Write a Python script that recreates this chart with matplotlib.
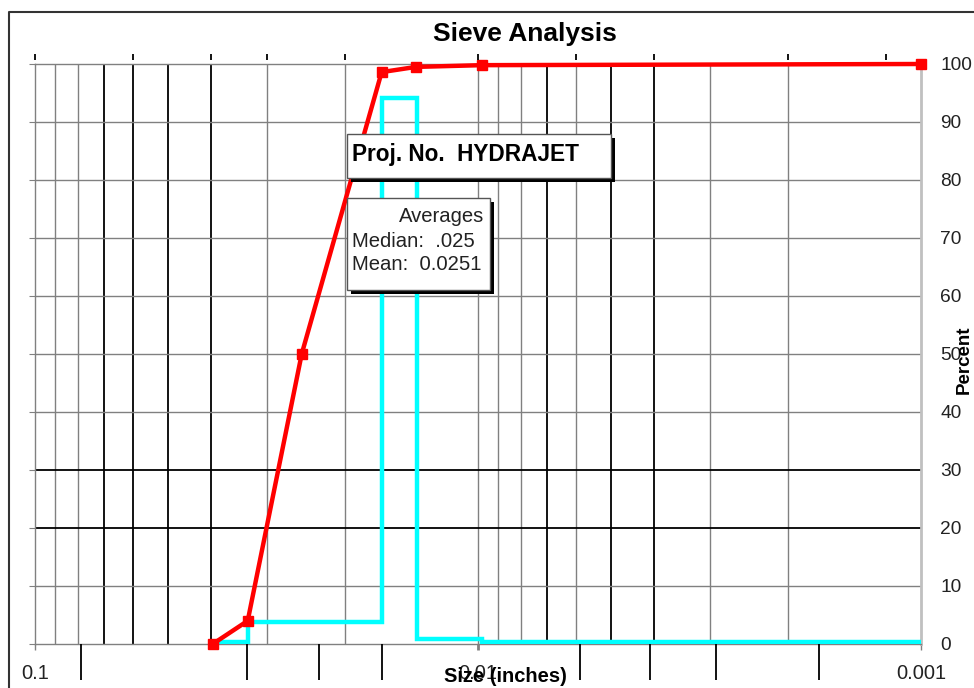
import matplotlib
matplotlib.use("Agg")
import matplotlib.pyplot as plt
from matplotlib.patches import Rectangle
from matplotlib.lines import Line2D
from matplotlib.ticker import NullLocator

plt.rcParams['font.family'] = ['Liberation Sans', 'DejaVu Sans']

# ---- data ----
size_in = [0.0397, 0.0331, 0.025, 0.0165, 0.0138, 0.0098, 0.001]
pct_passing = [0, 4.0, 50, 98.6, 99.5, 99.8, 100]

retained_edges = [0.0397, 0.0331, 0.0165, 0.0137, 0.0098, 0.001]
pct_retained = [0.3, 3.8, 94.1, 0.9, 0.4]

x_tick_vals = [0.1, 0.01, 0.001]
x_tick_labels = ['0.1', '0.01', '0.001']
y_tick_vals = list(range(0, 101, 10))

grid_sizes = [0.09, 0.08, 0.07, 0.06, 0.05, 0.04, 0.03, 0.02, 0.01,
              0.009, 0.008, 0.007, 0.006, 0.005, 0.004, 0.003, 0.002]
dark_grid_sizes = [0.07, 0.06, 0.05, 0.04, 0.007, 0.005, 0.004]
dark_grid_pct = [20, 30]

sieve_top = [0.1, 0.06, 0.04, 0.03, 0.02, 0.01, 0.006, 0.004, 0.002, 0.0012]
sieve_bottom = [0.0787, 0.0332, 0.0229, 0.0165, 0.0059, 0.0041, 0.0029, 0.0017]

title = "Sieve Analysis"
x_label = "Size (inches)"
y_label = "Percent"
project_text = "Proj. No.  HYDRAJET"
median_txt = ".025"
mean_txt = "0.0251"

# ---- figure ----
W, H = 974, 688
fig = plt.figure(figsize=(W / 100, H / 100), dpi=100)


def fx(px):
    return px / W


def fy(py):
    return 1 - py / H


ax = fig.add_axes([fx(35), fy(644), (921 - 35) / W, (644 - 64) / H])
ax.set_xscale('log')
ax.set_xlim(0.1, 0.001)
ax.set_ylim(0, 100)

GREY = '#808080'
for v in grid_sizes:
    dark = v in dark_grid_sizes
    ax.axvline(v, color='black' if dark else GREY, lw=1.3 if dark else 1.0, zorder=1)
for h in y_tick_vals[1:-1]:
    dark = h in dark_grid_pct
    ax.axhline(h, color='black' if dark else GREY, lw=1.3 if dark else 1.0, zorder=1)

for s in ['top', 'bottom', 'left']:
    ax.spines[s].set_color(GREY)
    ax.spines[s].set_linewidth(1.0)
ax.spines['right'].set_color('#c0c0c0')
ax.spines['right'].set_linewidth(2.0)

# series
ax.stairs(pct_retained, retained_edges, baseline=None, color='#00ffff', lw=3.2, zorder=3)
ax.plot(size_in, pct_passing, color='#ff0000', lw=3.2, marker='s', ms=7.5,
        zorder=4, clip_on=False)

# y axis
ax.set_yticks(y_tick_vals)
ax.set_yticklabels([str(v) for v in y_tick_vals])
ax.tick_params(axis='y', left=True, right=False, labelleft=False, labelright=True,
               length=4.3, width=0.8, color=GREY, pad=9.5, labelsize=13.8,
               labelcolor='#222222')
ax.yaxis.set_label_position('right')
ax.set_ylabel(y_label, fontsize=13.5, fontweight='bold', rotation=90,
              ha='center', va='center')
ax.yaxis.set_label_coords(1.0485, 0.49)

# x axis
ax.set_xticks(x_tick_vals)
ax.set_xticklabels(x_tick_labels)
ax.xaxis.set_minor_locator(NullLocator())
ax.tick_params(axis='x', length=4.3, width=1.0, color=GREY, pad=10,
               labelsize=14.5, labelcolor='#222222')
for t, v in zip(ax.xaxis.get_major_ticks(), x_tick_vals):
    if v == 0.01:
        t.tick1line.set_color('black')
        t.tick1line.set_markeredgewidth(2.0)
ax.set_xlabel(x_label, fontsize=14.5, fontweight='bold', va='center')
ax.xaxis.set_label_coords((505 - 35) / 886, (644 - 676) / 580)

ax.set_title(title, fontsize=19, fontweight='bold', x=(525 - 35) / 886,
             y=(644 - 34) / 580, va='center', pad=0)

# sieve tick marks above the plot
ax_t = ax.twiny()
ax_t.set_xscale('log')
ax_t.set_xlim(0.1, 0.001)
ax_t.set_xticks(sieve_top)
ax_t.set_xticklabels([])
ax_t.xaxis.set_minor_locator(NullLocator())
ax_t.tick_params(axis='x', top=True, bottom=False, length=4.5, width=1.3, color='black')
for s in ax_t.spines.values():
    s.set_visible(False)
ax_t.spines['top'].set_position(('outward', 3))
ax_t.patch.set_visible(False)

# sieve tick marks below the plot
ax_b = ax.twiny()
ax_b.set_xscale('log')
ax_b.set_xlim(0.1, 0.001)
ax_b.xaxis.set_ticks_position('bottom')
ax_b.set_xticks(sieve_bottom)
ax_b.set_xticklabels([])
ax_b.xaxis.set_minor_locator(NullLocator())
ax_b.tick_params(axis='x', top=False, bottom=True, length=26, width=1.3, color='black')
for t, v in zip(ax_b.xaxis.get_major_ticks(), sieve_bottom):
    if v == 0.0165:
        t.tick1line.set_color(GREY)
for s in ax_b.spines.values():
    s.set_visible(False)
ax_b.patch.set_visible(False)


# text boxes with drop shadows
def shadow_box(x0, y0, x1, y1, off=4):
    fig.add_artist(Rectangle((fx(x0 + off), fy(y1 + off)), (x1 - x0) / W, (y1 - y0) / H,
                             transform=fig.transFigure, facecolor='black',
                             edgecolor='black', lw=0, zorder=10))
    fig.add_artist(Rectangle((fx(x0), fy(y1)), (x1 - x0) / W, (y1 - y0) / H,
                             transform=fig.transFigure, facecolor='white',
                             edgecolor='#555555', lw=1.0, zorder=11))


shadow_box(347, 134, 611, 178)
fig.text(fx(352), fy(155), project_text, fontsize=16.3, fontweight='bold',
         ha='left', va='center', zorder=12)

shadow_box(347, 198, 490, 290)
fig.text(fx(484), fy(216), "Averages", fontsize=14.6, ha='right', va='center',
         color='#222222', zorder=12)
fig.text(fx(352), fy(241), f"Median:  {median_txt}", fontsize=14.6, ha='left',
         va='center', color='#222222', zorder=12)
fig.text(fx(352), fy(265), f"Mean:  {mean_txt}", fontsize=14.6, ha='left',
         va='center', color='#222222', zorder=12)

# outer chart frame
fig.add_artist(Line2D([fx(9), fx(9), 1.0], [0.0, fy(12), fy(12)],
                      transform=fig.transFigure, color='#333333', lw=1.5))

fig.savefig('out.png', dpi=100)
